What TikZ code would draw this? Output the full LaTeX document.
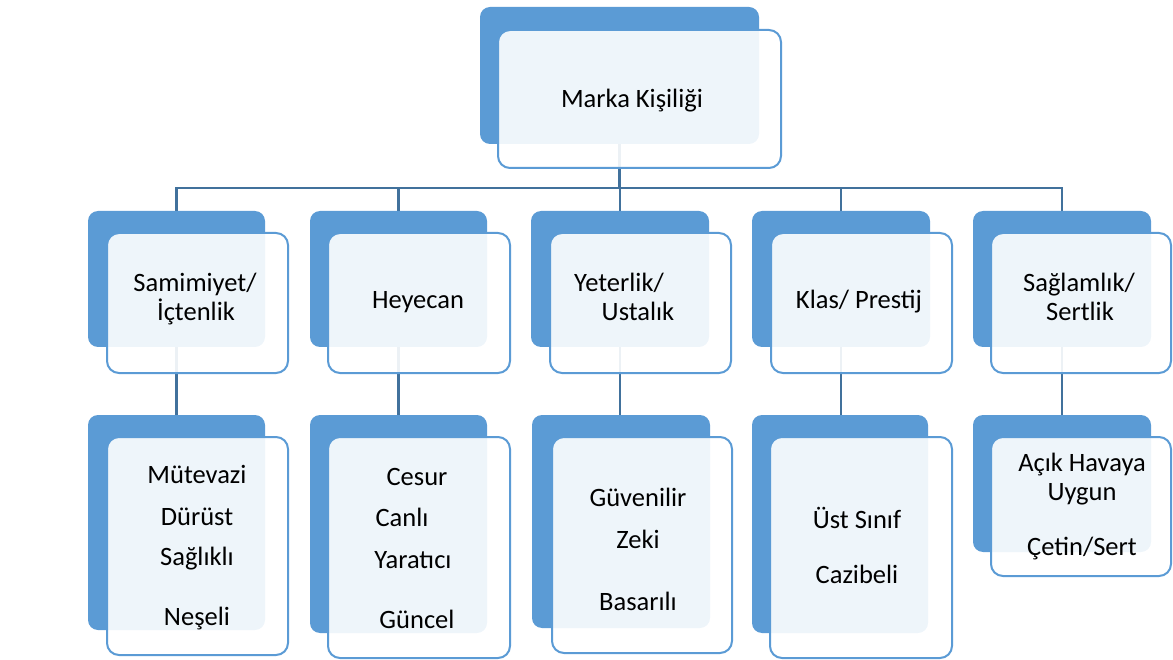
\documentclass[tikz,border=0pt]{standalone}
\usepackage{fontspec}
\setmainfont{Carlito}
\usetikzlibrary{fit,backgrounds}
\definecolor{cardblue}{HTML}{5B9BD5}
\definecolor{linkblue}{HTML}{41719C}
\begin{document}
\begin{tikzpicture}[x=1pt,y=-1pt,
  backbox/.style={fill=cardblue, rounded corners=10pt, inner sep=0pt},
  frontbox/.style={draw=cardblue, line width=2pt, fill=white, fill opacity=0.9, rounded corners=12pt, inner sep=0pt},
  lbl/.style={font=\fontsize{26.5}{31}\selectfont, inner sep=0pt, text height=17pt, text depth=0pt},
  link/.style={draw=linkblue, line width=2.5pt}]
\useasboundingbox (0,0) rectangle (1173,660);
% root
\node[backbox, fit={(480,7) (759,144)}] (rb) {};
\node[frontbox, fit={(498,30) (781,168)}] (rf) {};
\node[lbl] (rt) at (632,99) {Marka Kişiliği};
% level 1
\node[backbox, fit={(88,211) (265,347)}] (s1b) {};
\node[frontbox, fit={(107,233) (288,373)}] (s1f) {};
\node[backbox, fit={(310,211) (487,347)}] (s2b) {};
\node[frontbox, fit={(328,233) (510,373)}] (s2f) {};
\node[backbox, fit={(531,211) (709,347)}] (s3b) {};
\node[frontbox, fit={(550,233) (731,373)}] (s3f) {};
\node[backbox, fit={(752,211) (930,347)}] (s4b) {};
\node[frontbox, fit={(771,233) (952,373)}] (s4f) {};
\node[backbox, fit={(973,211) (1151,347)}] (s5b) {};
\node[frontbox, fit={(991,233) (1171,373)}] (s5f) {};
\node[lbl] (s1t1) at (195,283) {Samimiyet/};
\node[lbl] (s1t2) at (196,312) {İçtenlik};
\node[lbl] (s2t1) at (418,300) {Heyecan};
\node[lbl] (s3t1) at (619,283) {Yeterlik/};
\node[lbl] (s3t2) at (638,312) {Ustalık};
\node[lbl] (s4t1) at (859,300) {Klas/ Prestij};
\node[lbl] (s5t1) at (1079,283) {Sağlamlık/};
\node[lbl] (s5t2) at (1080,312) {Sertlik};
% level 2
\node[backbox, fit={(88,415) (265,630)}] (t1b) {};
\node[frontbox, fit={(107,437) (288,655)}] (t1f) {};
\node[backbox, fit={(310,415) (487,633)}] (t2b) {};
\node[frontbox, fit={(328,437) (510,658)}] (t2f) {};
\node[backbox, fit={(532,415) (710,628)}] (t3b) {};
\node[frontbox, fit={(552,437) (732,653)}] (t3f) {};
\node[backbox, fit={(752,415) (928,633)}] (t4b) {};
\node[frontbox, fit={(770,437) (952,658)}] (t4f) {};
\node[backbox, fit={(973,415) (1151,552)}] (t5b) {};
\node[frontbox, fit={(991,437) (1171,576)}] (t5f) {};
\node[lbl] (t1t1) at (197,475) {Mütevazi};
\node[lbl] (t1t2) at (197,517) {Dürüst};
\node[lbl] (t1t3) at (197,557) {Sağlıklı};
\node[lbl] (t1t4) at (197,617) {Neşeli};
\node[lbl] (t2t1) at (417,477) {Cesur};
\node[lbl] (t2t2) at (402,518) {Canlı};
\node[lbl] (t2t3) at (413,560) {Yaratıcı};
\node[lbl] (t2t4) at (417,620) {Güncel};
\node[lbl] (t3t1) at (638,498) {Güvenilir};
\node[lbl] (t3t2) at (638,540) {Zeki};
\node[lbl] (t3t3) at (638,602) {Basarılı};
\node[lbl] (t4t1) at (857,520) {Üst Sınıf};
\node[lbl] (t4t2) at (857,575) {Cazibeli};
\node[lbl] (t5t1) at (1082,463) {Açık Havaya};
\node[lbl] (t5t2) at (1082,492) {Uygun};
\node[lbl] (t5t3) at (1082,547) {Çetin/Sert};
% connectors
\begin{scope}[on background layer]
\coordinate (bus) at (0,188);
\draw[link] (rb.south) -- (rb.south |- bus);
\draw[link] (s1b.north) -- (s1b.north |- bus) -- (s5b.north |- bus) -- (s5b.north);
\draw[link] (s2b.north) -- (s2b.north |- bus);
\draw[link] (s3b.north) -- (s3b.north |- bus);
\draw[link] (s4b.north) -- (s4b.north |- bus);
\draw[link] (s1b.south) -- (s1b.south |- t1b.north);
\draw[link] (s2b.south) -- (s2b.south |- t2b.north);
\draw[link] (s3b.south) -- (s3b.south |- t3b.north);
\draw[link] (s4b.south) -- (s4b.south |- t4b.north);
\draw[link] (s5b.south) -- (s5b.south |- t5b.north);
\end{scope}
\end{tikzpicture}
\end{document}
